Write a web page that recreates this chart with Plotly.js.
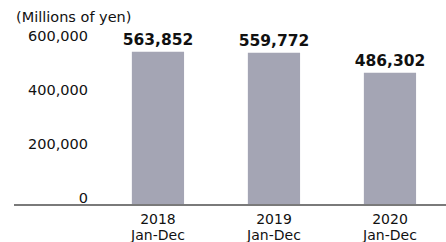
<!DOCTYPE html>
<html>
<head>
<meta charset="utf-8">
<script src="https://cdn.plot.ly/plotly-3.0.1.min.js"></script>
<style>html,body{margin:0;padding:0;background:#fff;}#chart{width:446px;height:242px;}</style>
</head>
<body>
<div id="chart"></div>
<script>
var years = ["2018", "2019", "2020"];
var period = ["Jan-Dec", "Jan-Dec", "Jan-Dec"];
var values = [563852, 559772, 486302];
var yTickVals = [0, 200000, 400000, 600000];
var yTickText = ["0", "200,000", "400,000", "600,000"];
var unitLabel = "(Millions of yen)";

var catLabels = years.map(function(y, i){
  return '<span style="font-size:14px">' + y + '</span><br><span style="font-size:14px">' + period[i] + '</span>';
});

var FONT = "DejaVu Sans, sans-serif";
var trace = {
  type: 'bar',
  x: catLabels,
  y: values,
  width: 0.45,
  marker: {color: '#a4a5b4'},
  text: values.map(function(v){ return v.toLocaleString('en-US'); }),
  textposition: 'outside',
  constraintext: 'none',
  textfont: {family: FONT, size: 15.5, color: '#111111', weight: 'bold'},
  cliponaxis: false,
  hoverinfo: 'none'
};

var layout = {
  width: 446, height: 242,
  margin: {l: 14, r: 0, t: 32, b: 38},
  paper_bgcolor: '#ffffff', plot_bgcolor: '#ffffff',
  showlegend: false,
  font: {family: FONT, color: '#111111'},
  title: {text: unitLabel, font: {family: FONT, size: 14.5, color: '#111111'},
          xref: 'container', yref: 'container', x: 16/446, xanchor: 'left', y: 1 - 17/242, yanchor: 'middle'},
  xaxis: {
    type: 'category',
    range: [-1.241, 2.483],
    showline: true, linecolor: '#7a7a7a', linewidth: 2,
    ticks: '', showgrid: false, zeroline: false,
    tickfont: {family: FONT, size: 12, color: '#111111'},
    ticklabelstandoff: 4,
    fixedrange: true
  },
  yaxis: {
    range: [0, 637037],
    anchor: 'free', position: 74/432,
    showline: false, showgrid: false, zeroline: false, ticks: '',
    tickvals: yTickVals, ticktext: yTickText,
    ticklabelshift: -6,
    tickfont: {family: FONT, size: 14.5, color: '#111111'},
    fixedrange: true
  },
  bargap: 0.55
};

Plotly.newPlot('chart', [trace], layout, {displayModeBar: false, staticPlot: true});
</script>
</body>
</html>
